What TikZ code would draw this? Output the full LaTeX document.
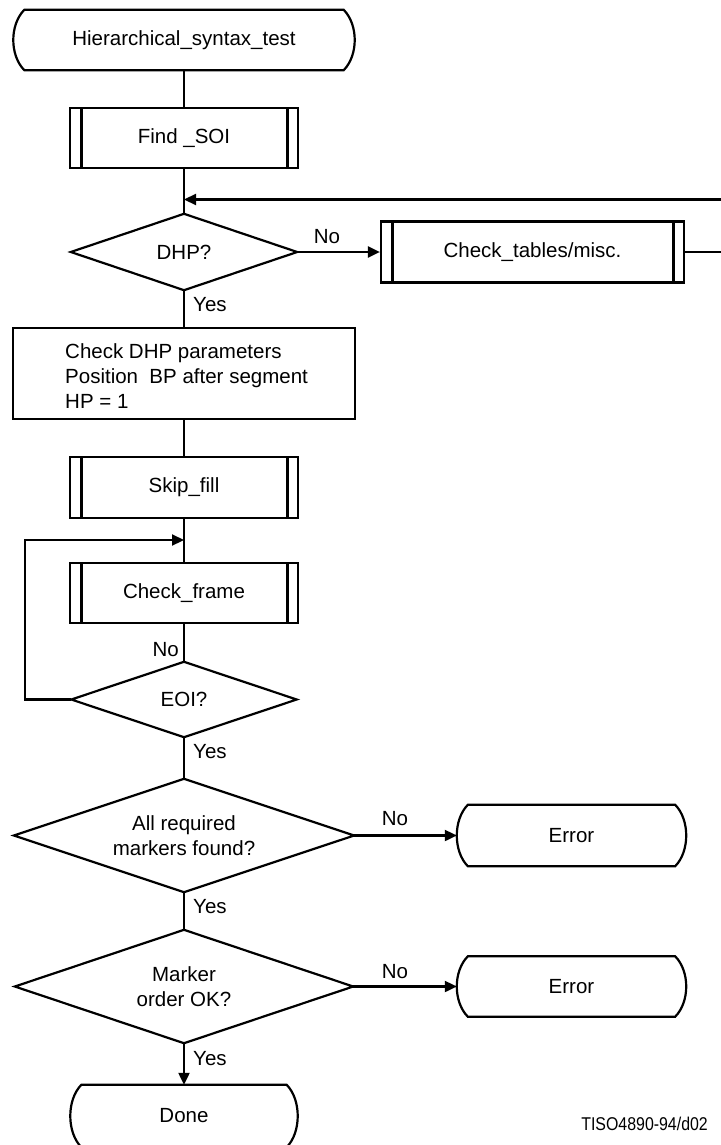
\documentclass[tikz,border=0pt]{standalone}
\usepackage{fontspec}
\setmainfont{Liberation Sans}
\newfontfamily\footfont[FakeStretch=0.86]{Liberation Sans}
\usetikzlibrary{arrows.meta,calc}

% decision: name, x, y, half width, half height, text
\newcommand\decisionnode[6]{%
  \node[minimum width=2*#4, minimum height=2*#5, align=center] (#1) at (#2,#3) {#6};
  \draw[line] (#1.north) -- (#1.east) -- (#1.south) -- (#1.west) -- cycle;}

% terminal with bulging sides: name, x, y, width, height, text
\newcommand\terminalnode[6]{%
  \node[minimum width=#4, minimum height=#5] (#1) at (#2,#3) {#6};
  \draw[line] ($(#1.north west)+(11,0)$) -- ($(#1.north east)+(-11,0)$)
    .. controls +(14.7,15) and +(14.7,-15) .. ($(#1.south east)+(-11,0)$)
    -- ($(#1.south west)+(11,0)$)
    .. controls +(-14.7,-15) and +(-14.7,15) .. ($(#1.north west)+(11,0)$) -- cycle;}

\begin{document}
\begin{tikzpicture}[x=1pt,y=-1pt,
  every node/.style={font=\fontsize{20.5}{24.75}\selectfont, inner sep=0pt},
  line/.style={line width=2.2pt, line join=miter},
  arr/.style={line width=2.2pt, line join=miter, -{Triangle[length=12pt,width=11pt]}},
  subbox/.style={draw, line width=2.2pt, minimum height=61pt,
    path picture={
      \draw[line width=3pt]
        ([xshift=11pt]path picture bounding box.north west) -- ([xshift=11pt]path picture bounding box.south west)
        ([xshift=-11pt]path picture bounding box.north east) -- ([xshift=-11pt]path picture bounding box.south east);}},
  procbox/.style={draw, line width=2.2pt},
  lbl/.style={font=\fontsize{20.5}{24.75}\selectfont}
]
\useasboundingbox (0,0) rectangle (720,1145);

% main column
\terminalnode{start}{184}{40}{341}{60}{Hierarchical\_syntax\_test}
\node[subbox, minimum width=228pt, minimum height=60pt] (find) at (184,138) {Find \_SOI};
\coordinate (loopin) at (184,199.5);
\decisionnode{dhp}{184}{252}{113}{38}{DHP?}
\node[subbox, minimum width=303pt] (chk) at (532.5,252) {Check\_tables/misc.};
\coordinate (rt) at (728,0);

\node[procbox, minimum width=342pt, minimum height=91pt] (params) at (184,373.5) {};
\node[anchor=west, align=left] (paramstext) at (65,376)
  {Check DHP parameters\\Position~~BP after segment\\HP = 1};

\node[subbox, minimum width=228pt] (skip) at (184,487.5) {Skip\_fill};
\coordinate (loopjoin) at (184,540);
\coordinate (lp) at (25,0);
\node[subbox, minimum width=228pt, minimum height=60pt] (frame) at (184,593) {Check\_frame};
\decisionnode{eoi}{184}{699.5}{112.5}{37.5}{EOI?}

\decisionnode{req}{184}{835.5}{170}{56.5}{All required\\markers found?}
\terminalnode{err1}{571.5}{835.5}{229}{61}{Error}
\decisionnode{ord}{184}{986.5}{169}{56.5}{Marker\\order OK?}
\terminalnode{err2}{571.5}{986.5}{229}{60}{Error}
\terminalnode{done}{184}{1116}{227}{62}{Done}

% connectors
\draw[line] (start.south) -- (find.north);
\draw[line] (find.south) -- (dhp.north);
\draw[arr] (dhp.east) -- (chk.west);
\draw[arr] (chk.east) -- (chk.east -| rt) |- (loopin);
\draw[line] (dhp.south) -- (params.north);
\draw[line] (params.south) -- (skip.north);
\draw[line] (skip.south) -- (frame.north);
\draw[line] (frame.south) -- (eoi.north);
\draw[arr] (eoi.west) -| (lp |- loopjoin) -- (loopjoin);
\draw[line] (eoi.south) -- (req.north);
\draw[arr] (req.east) -- (err1.west);
\draw[line] (req.south) -- (ord.north);
\draw[arr] (ord.east) -- (err2.west);
\draw[arr] (ord.south) -- (done.north);

% branch labels
\node[lbl] (noA) at (327,237) {No};
\node[lbl, anchor=west] (yesA) at (193,305) {Yes};
\node[lbl, anchor=east] (noB) at (179,650) {No};
\node[lbl, anchor=west] (yesB) at (193,752) {Yes};
\node[lbl] (noC) at (395,819) {No};
\node[lbl, anchor=west] (yesC) at (193,907) {Yes};
\node[lbl] (noD) at (395,972) {No};
\node[lbl, anchor=west] (yesD) at (193,1059) {Yes};

\node[anchor=east, font=\footfont\fontsize{18.5}{22}\selectfont] (tag) at (708,1124) {TISO4890-94/d02};
\end{tikzpicture}
\end{document}
